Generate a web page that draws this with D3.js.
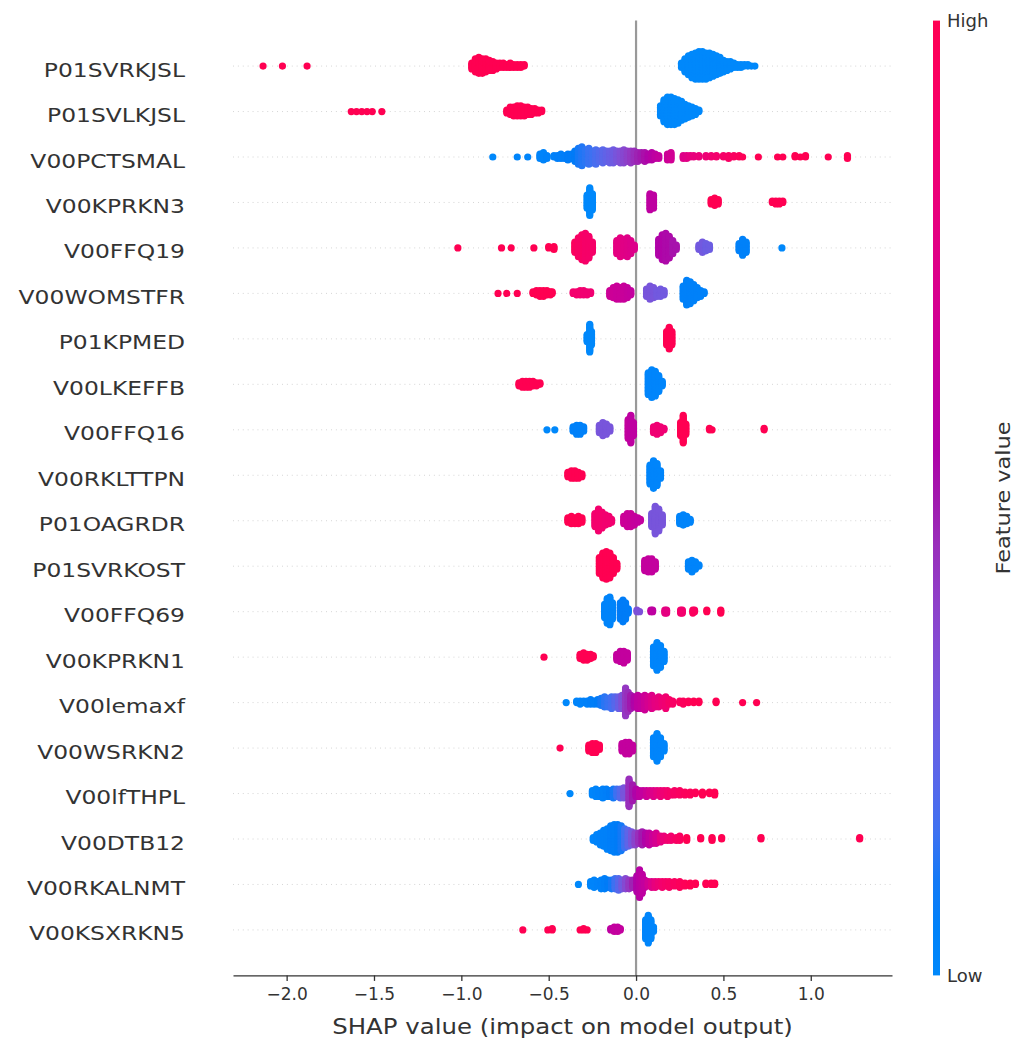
<!DOCTYPE html>
<html>
<head>
<meta charset="utf-8">
<script src="https://cdn.jsdelivr.net/npm/d3@7"></script>
<style>
  body { margin: 0; background: #fff; }
  text { font-family: "DejaVu Sans", sans-serif; fill: #333; }
</style>
</head>
<body>
<div id="chart"></div>
<script>
// feature names, top to bottom
const featureNames = [
  "P01SVRKJSL", "P01SVLKJSL", "V00PCTSMAL", "V00KPRKN3", "V00FFQ19",
  "V00WOMSTFR", "P01KPMED", "V00LKEFFB", "V00FFQ16", "V00RKLTTPN",
  "P01OAGRDR", "P01SVRKOST", "V00FFQ69", "V00KPRKN1", "V00lemaxf",
  "V00WSRKN2", "V00lfTHPL", "V00DTB12", "V00RKALNMT", "V00KSXRKN5"
];

// each entry: [shap value, feature value (0 = low, 1 = high), number of samples]
const P01SVRKJSL = [
  [-2.135,1,1],[-2.024,1,1],[-1.883,1,1],
  [-0.94,1,5],[-0.92,1,10],[-0.90,1,12],[-0.88,1,11],[-0.86,1,10],[-0.84,1,8],[-0.82,1,7],
  [-0.80,1,5],[-0.78,1,4],[-0.76,1,4],[-0.74,1,3],[-0.72,1,4],[-0.70,1,3],[-0.68,1,3],[-0.66,1,3],[-0.64,1,2],
  [0.26,0,4],[0.28,0,10],[0.30,0,14],[0.32,0,17],[0.34,0,19],[0.36,0,20],[0.38,0,20],[0.40,0,19],
  [0.42,0,18],[0.44,0,16],[0.46,0,14],[0.48,0,12],[0.50,0,9],[0.52,0,7],[0.54,0,6],[0.56,0,4],
  [0.58,0,3],[0.60,0,3],[0.62,0,2],[0.64,0,2],[0.66,0,1],[0.68,0,1]
];
const P01SVLKJSL = [
  [-1.63,1,1],[-1.60,1,1],[-1.57,1,1],[-1.54,1,1],[-1.51,1,1],[-1.455,1,1],
  [-0.74,1,3],[-0.72,1,6],[-0.70,1,7],[-0.68,1,8],[-0.66,1,8],[-0.64,1,7],[-0.62,1,6],[-0.60,1,5],
  [-0.58,1,4],[-0.56,1,3],[-0.54,1,2],
  [0.14,0,8],[0.16,0,16],[0.18,0,20],[0.20,0,20],[0.22,0,19],[0.24,0,17],[0.26,0,14],[0.28,0,11],
  [0.30,0,9],[0.32,0,7],[0.34,0,5],[0.36,0,2]
];
const V00PCTSMAL = [
  [-0.82,0,1],[-0.68,0.02,1],[-0.62,0.02,1],[-0.55,0.03,4],[-0.53,0.03,6],[-0.51,0.04,3],[-0.47,0.05,2],
  [-0.45,0.06,3],[-0.43,0.06,4],[-0.41,0.07,3],[-0.39,0.08,5],[-0.37,0.08,4],[-0.35,0.09,8],[-0.33,0.1,12],
  [-0.31,0.11,14],[-0.29,0.12,10],[-0.27,0.14,12],[-0.25,0.15,9],[-0.23,0.17,11],[-0.21,0.19,8],[-0.19,0.21,10],
  [-0.17,0.23,8],[-0.15,0.25,9],[-0.13,0.27,10],[-0.11,0.3,8],[-0.09,0.33,9],[-0.07,0.36,10],[-0.05,0.39,8],
  [-0.03,0.42,9],[-0.01,0.45,8],[0.01,0.48,7],[0.03,0.5,6],[0.05,0.53,7],[0.07,0.55,5],[0.09,0.57,6],
  [0.11,0.6,4],[0.13,0.62,3],[0.18,0.66,5],[0.20,0.68,6],[0.27,0.74,3],[0.29,0.76,3],[0.31,0.78,2],
  [0.33,0.8,2],[0.36,0.82,2],[0.40,0.84,2],[0.43,0.86,2],[0.46,0.88,2],[0.50,0.9,2],[0.53,0.92,3],
  [0.56,0.94,2],[0.59,0.96,2],[0.61,0.98,1],[0.70,1,1],[0.81,1,1],[0.84,1,1],[0.91,1,2],[0.94,1,1],
  [0.97,1,2],[1.10,1,1],[1.21,1,3]
];
const V00KPRKN3 = [
  [-0.28,0,10],[-0.265,0,20],[-0.25,0,12],
  [0.08,0.6,12],[0.10,0.6,10],
  [0.43,1,4],[0.45,1,6],[0.47,1,4],
  [0.78,1,2],[0.80,1,3],[0.82,1,3],[0.84,1,2]
];
const V00FFQ19 = [
  [-1.02,1,1],[-0.77,1,1],[-0.715,1,1],[-0.585,1,1],[-0.50,1,2],[-0.47,1,3],
  [-0.35,0.95,8],[-0.33,0.92,14],[-0.31,0.92,18],[-0.29,0.9,20],[-0.27,0.9,16],[-0.25,0.9,8],
  [-0.11,0.78,10],[-0.09,0.78,14],[-0.07,0.76,12],[-0.05,0.75,14],[-0.03,0.74,10],[-0.01,0.74,4],
  [0.13,0.55,12],[0.15,0.55,18],[0.17,0.54,20],[0.19,0.54,16],[0.21,0.52,10],[0.23,0.52,4],
  [0.36,0.28,4],[0.38,0.28,8],[0.40,0.26,6],[0.42,0.26,4],
  [0.59,0.05,6],[0.61,0.05,12],[0.63,0.05,8],
  [0.835,0,1]
];
const V00WOMSTFR = [
  [-0.79,1,1],[-0.74,1,1],[-0.68,1,1],
  [-0.59,1,2],[-0.57,1,4],[-0.55,1,5],[-0.53,1,5],[-0.51,1,4],[-0.49,1,3],[-0.48,1,2],
  [-0.36,0.88,2],[-0.34,0.88,3],[-0.32,0.88,4],[-0.30,0.86,4],[-0.28,0.86,3],[-0.26,0.86,2],
  [-0.15,0.66,5],[-0.13,0.66,8],[-0.11,0.65,10],[-0.09,0.65,9],[-0.07,0.64,10],[-0.05,0.63,8],[-0.03,0.62,4],
  [0.06,0.3,6],[0.08,0.3,10],[0.10,0.3,8],[0.12,0.28,5],[0.14,0.28,6],[0.16,0.28,4],
  [0.27,0.05,10],[0.29,0.05,18],[0.31,0.05,16],[0.33,0.05,12],[0.35,0.05,8],[0.37,0.05,5],[0.39,0.05,2]
];
const P01KPMED = [
  [-0.28,0,6],[-0.265,0,20],[-0.255,0,10],
  [0.175,1,10],[0.19,1,16],[0.205,1,10]
];
const V00LKEFFB = [
  [-0.67,1,3],[-0.65,1,5],[-0.63,1,5],[-0.61,1,5],[-0.59,1,4],[-0.57,1,3],[-0.55,1,2],
  [0.07,0.02,16],[0.09,0.02,20],[0.11,0.02,18],[0.13,0.02,12],[0.15,0.02,4]
];
const V00FFQ16 = [
  [-0.51,0,1],[-0.465,0,1],
  [-0.36,0.05,4],[-0.34,0.05,7],[-0.32,0.05,7],[-0.30,0.05,4],
  [-0.21,0.3,6],[-0.19,0.3,10],[-0.17,0.3,8],[-0.15,0.3,4],
  [-0.045,0.62,14],[-0.03,0.6,20],[-0.015,0.6,10],
  [0.10,0.85,5],[0.12,0.85,7],[0.14,0.85,5],[0.16,0.85,2],
  [0.255,1,10],[0.27,1,20],[0.285,1,8],
  [0.42,1,2],[0.435,1,1],[0.733,1,2]
];
const V00RKLTTPN = [
  [-0.39,1,4],[-0.37,1,6],[-0.35,1,6],[-0.33,1,5],[-0.31,1,3],
  [0.08,0.02,14],[0.10,0.02,20],[0.12,0.02,16],[0.14,0.02,6]
];
const P01OAGRDR = [
  [-0.39,1,4],[-0.37,1,6],[-0.35,1,5],[-0.33,1,6],[-0.31,1,4],
  [-0.235,0.88,10],[-0.215,0.88,16],[-0.195,0.88,12],[-0.175,0.87,8],[-0.155,0.87,6],[-0.14,0.87,3],
  [-0.07,0.66,6],[-0.05,0.65,10],[-0.03,0.64,10],[-0.01,0.63,7],[0.01,0.62,4],[0.025,0.62,2],
  [0.09,0.3,10],[0.11,0.3,20],[0.13,0.3,16],[0.15,0.3,8],
  [0.25,0.03,6],[0.27,0.03,8],[0.29,0.03,6],[0.31,0.03,3]
];
const P01SVRKOST = [
  [-0.21,1,12],[-0.19,1,18],[-0.17,1,20],[-0.15,1,18],[-0.13,1,12],[-0.11,1,5],
  [0.05,0.62,8],[0.07,0.62,10],[0.09,0.62,10],[0.11,0.62,6],
  [0.30,0.03,6],[0.32,0.03,9],[0.34,0.03,6],[0.36,0.03,2]
];
const V00FFQ69 = [
  [-0.18,0.03,10],[-0.165,0.03,18],[-0.15,0.03,20],[-0.135,0.03,12],
  [-0.09,0.08,12],[-0.075,0.08,16],[-0.06,0.08,12],[-0.045,0.08,4],
  [0.005,0.32,2],[0.02,0.32,1],[0.085,0.6,2],[0.095,0.6,2],
  [0.165,0.78,3],[0.175,0.78,3],[0.255,0.88,3],[0.265,0.88,3],
  [0.325,0.95,3],[0.335,0.95,2],[0.405,1,2],[0.485,1,3]
];
const V00KPRKN1 = [
  [-0.527,1,1],
  [-0.32,1,4],[-0.30,1,6],[-0.28,1,5],[-0.26,1,4],[-0.245,1,2],
  [-0.11,0.62,5],[-0.09,0.62,8],[-0.07,0.62,9],[-0.05,0.62,6],
  [0.10,0.02,14],[0.12,0.02,20],[0.14,0.02,16],[0.16,0.02,8]
];
const V00lemaxf = [
  [-0.40,0,1],[-0.34,0.02,2],[-0.32,0.03,3],[-0.30,0.04,2],[-0.28,0.05,3],[-0.26,0.06,4],[-0.24,0.07,3],
  [-0.22,0.08,4],[-0.20,0.1,6],[-0.18,0.12,8],[-0.16,0.14,7],[-0.14,0.16,9],[-0.12,0.2,8],[-0.10,0.25,9],
  [-0.08,0.32,10],[-0.06,0.42,20],[-0.045,0.45,14],[-0.03,0.5,10],[-0.01,0.55,8],[0.01,0.6,10],
  [0.03,0.62,9],[0.05,0.66,11],[0.07,0.7,8],[0.09,0.74,10],[0.11,0.78,7],[0.13,0.8,8],[0.15,0.84,6],
  [0.17,0.86,9],[0.19,0.9,4],[0.21,0.92,3],[0.25,0.95,2],[0.27,0.96,3],[0.30,0.98,2],[0.33,1,2],
  [0.36,1,2],[0.458,1,2],[0.61,1,1],[0.69,1,1]
];
const V00WSRKN2 = [
  [-0.435,1,1],
  [-0.27,1,5],[-0.25,1,7],[-0.23,1,7],[-0.21,1,4],
  [-0.08,0.62,6],[-0.06,0.62,9],[-0.04,0.62,9],[-0.02,0.62,5],
  [0.10,0.02,14],[0.12,0.02,20],[0.14,0.02,14],[0.16,0.02,6]
];
const V00lfTHPL = [
  [-0.378,0,1],[-0.25,0.02,4],[-0.23,0.03,6],[-0.21,0.04,5],[-0.19,0.05,7],[-0.17,0.06,6],[-0.15,0.08,5],
  [-0.13,0.1,7],[-0.11,0.15,6],[-0.09,0.2,7],[-0.07,0.3,8],[-0.04,0.45,20],[-0.02,0.5,12],[0.00,0.55,6],
  [0.02,0.6,5],[0.04,0.62,4],[0.06,0.66,5],[0.08,0.7,4],[0.10,0.74,5],[0.12,0.78,4],[0.14,0.82,5],
  [0.16,0.85,4],[0.18,0.88,5],[0.20,0.9,3],[0.22,0.92,4],[0.25,0.94,4],[0.28,0.96,3],[0.31,0.97,3],
  [0.34,0.98,2],[0.38,1,3],[0.42,1,2],[0.45,1,3]
];
const V00DTB12 = [
  [-0.245,0.02,3],[-0.225,0.03,6],[-0.205,0.04,9],[-0.185,0.05,12],[-0.165,0.05,15],[-0.145,0.06,18],
  [-0.125,0.07,20],[-0.105,0.08,20],[-0.085,0.1,18],[-0.065,0.15,14],[-0.045,0.22,12],[-0.025,0.3,10],
  [-0.005,0.38,9],[0.015,0.45,8],[0.035,0.5,10],[0.055,0.55,8],[0.075,0.6,9],[0.095,0.65,7],[0.115,0.7,8],
  [0.14,0.78,5],[0.16,0.82,4],[0.18,0.86,3],[0.20,0.88,4],[0.23,0.92,3],[0.25,0.94,4],[0.29,1,3],
  [0.37,1,2],[0.435,1,3],[0.49,1,2],[0.715,1,2],[1.28,1,2]
];
const V00RKALNMT = [
  [-0.33,0,1],[-0.26,0.02,4],[-0.24,0.03,6],[-0.22,0.04,4],[-0.20,0.05,7],[-0.18,0.06,8],[-0.16,0.08,6],
  [-0.14,0.1,7],[-0.12,0.15,8],[-0.10,0.2,9],[-0.08,0.28,7],[-0.06,0.35,8],[-0.04,0.42,7],[-0.02,0.48,6],
  [0.005,0.55,12],[0.02,0.58,20],[0.035,0.6,14],[0.05,0.62,6],[0.07,0.68,4],[0.09,0.74,5],[0.11,0.8,5],
  [0.13,0.84,4],[0.15,0.88,5],[0.17,0.9,4],[0.19,0.92,5],[0.22,0.94,4],[0.25,0.96,5],[0.28,0.98,3],
  [0.31,1,3],[0.34,1,2],[0.40,1,2],[0.43,1,2],[0.45,1,2]
];
const V00KSXRKN5 = [
  [-0.648,1,1],[-0.505,1,1],[-0.48,1,2],[-0.32,1,1],[-0.30,1,2],[-0.28,1,1],
  [-0.145,0.6,2],[-0.125,0.62,4],[-0.105,0.62,4],[-0.09,0.62,2],
  [0.055,0.02,14],[0.07,0.02,20],[0.085,0.02,14],[0.10,0.02,4]
];

const featureRows = [
  P01SVRKJSL, P01SVLKJSL, V00PCTSMAL, V00KPRKN3, V00FFQ19,
  V00WOMSTFR, P01KPMED, V00LKEFFB, V00FFQ16, V00RKLTTPN,
  P01OAGRDR, P01SVRKOST, V00FFQ69, V00KPRKN1, V00lemaxf,
  V00WSRKN2, V00lfTHPL, V00DTB12, V00RKALNMT, V00KSXRKN5
];

const xTicks = [-2.0, -1.5, -1.0, -0.5, 0.0, 0.5, 1.0];
const xDomain = [-2.307, 1.465];
const colorTicks = ["Low", "High"];

// layout
const width = 1026, height = 1042;
const plot = { left: 233, right: 892, top: 20.6, bottom: 975.4 };
const dotRadius = 3.6, layerStep = 1.45;

// shap red_blue map: lch path from blue through purple to red
function shapColor(t) {
  const l = t < 0.5 ? 54 - 28 * t : 40 + 28 * (t - 0.5);
  return d3.hcl(266.93 + 113.39 * t, 70 + 20 * t, l).formatRgb();
}

// stretch text along its baseline to match the reference's wider lettering
function stretch(sel, k) {
  sel.each(function() {
    const len = this.getComputedTextLength();
    d3.select(this).attr("textLength", len * k).attr("lengthAdjust", "spacingAndGlyphs");
  });
}

const svg = d3.select("#chart").append("svg")
  .attr("width", width)
  .attr("height", height);

const x = d3.scaleLinear().domain(xDomain).range([plot.left, plot.right]);
const y = d3.scaleLinear().domain([-1, featureNames.length]).range([plot.bottom, plot.top]);
const rowY = i => y(featureNames.length - 1 - i);

// dotted row guides
svg.append("g")
  .selectAll("line")
  .data(featureNames)
  .join("line")
  .attr("x1", plot.left)
  .attr("x2", plot.right)
  .attr("y1", (d, i) => rowY(i))
  .attr("y2", (d, i) => rowY(i))
  .attr("stroke", "#cccccc")
  .attr("stroke-width", 0.9)
  .attr("stroke-dasharray", "0.9,4");

// zero line
svg.append("line")
  .attr("x1", x(0)).attr("x2", x(0))
  .attr("y1", plot.top).attr("y2", plot.bottom)
  .attr("stroke", "#999999")
  .attr("stroke-width", 2.2);

// beeswarm points
const dots = svg.append("g");
featureRows.forEach(function(row, i) {
  const pts = [];
  row.forEach(function([v, fv, n]) {
    for (let k = 0; k < n; k++) pts.push({ v: v, fv: fv });
  });
  // stack points sharing a pixel column, alternating above / below the row
  d3.group(pts, d => Math.round(x(d.v))).forEach(function(bin) {
    bin.forEach(function(d, layer) {
      d.off = Math.ceil(layer / 2) * ((layer % 2) * 2 - 1) * layerStep;
    });
  });
  dots.append("g")
    .selectAll("circle")
    .data(pts)
    .join("circle")
    .attr("cx", d => x(d.v))
    .attr("cy", d => rowY(i) - d.off)
    .attr("r", dotRadius)
    .attr("fill", d => shapColor(d.fv));
});

// feature labels
svg.append("g")
  .selectAll("text")
  .data(featureNames)
  .join("text")
  .attr("x", 185)
  .attr("y", (d, i) => rowY(i) + 10.5)
  .attr("text-anchor", "end")
  .style("font-size", "20px")
  .text(d => d)
  .call(stretch, 1.17);

// x axis
const xAxis = svg.append("g")
  .attr("transform", "translate(0," + plot.bottom + ")")
  .call(d3.axisBottom(x)
    .tickValues(xTicks)
    .tickFormat(d3.format(".1f"))
    .tickSize(5.5)
    .tickSizeOuter(0)
    .tickPadding(7));
xAxis.select(".domain").attr("stroke", "#333").attr("stroke-width", 1.3);
xAxis.selectAll(".tick line").attr("stroke", "#333").attr("stroke-width", 1.3);
xAxis.selectAll(".tick text")
  .attr("fill", "#333")
  .style("font-family", "DejaVu Sans, sans-serif")
  .style("font-size", "17px");

svg.append("text")
  .attr("x", (plot.left + plot.right) / 2)
  .attr("y", 1034)
  .attr("text-anchor", "middle")
  .style("font-size", "20.5px")
  .text("SHAP value (impact on model output)")
  .call(stretch, 1.19);

// colour bar
const defs = svg.append("defs");
const grad = defs.append("linearGradient")
  .attr("id", "shapGrad")
  .attr("x1", 0).attr("y1", 1).attr("x2", 0).attr("y2", 0);
grad.selectAll("stop")
  .data(d3.range(0, 1.0001, 0.05))
  .join("stop")
  .attr("offset", d => d)
  .attr("stop-color", d => shapColor(d));

svg.append("rect")
  .attr("x", 933)
  .attr("y", plot.top)
  .attr("width", 7)
  .attr("height", plot.bottom - plot.top)
  .attr("fill", "url(#shapGrad)");

const cbScale = d3.scaleLinear().domain([0, 1]).range([plot.bottom, plot.top]);
svg.append("g")
  .selectAll("text")
  .data(colorTicks)
  .join("text")
  .attr("x", 947)
  .attr("y", (d, i) => cbScale(i))
  .attr("dy", "0.35em")
  .style("font-size", "18px")
  .text(d => d);

svg.append("text")
  .attr("transform", "translate(1003," + ((plot.top + plot.bottom) / 2) + ") rotate(-90)")
  .attr("text-anchor", "middle")
  .attr("dy", "0.35em")
  .style("font-size", "19px")
  .text("Feature value")
  .call(stretch, 1.18);
</script>
</body>
</html>
